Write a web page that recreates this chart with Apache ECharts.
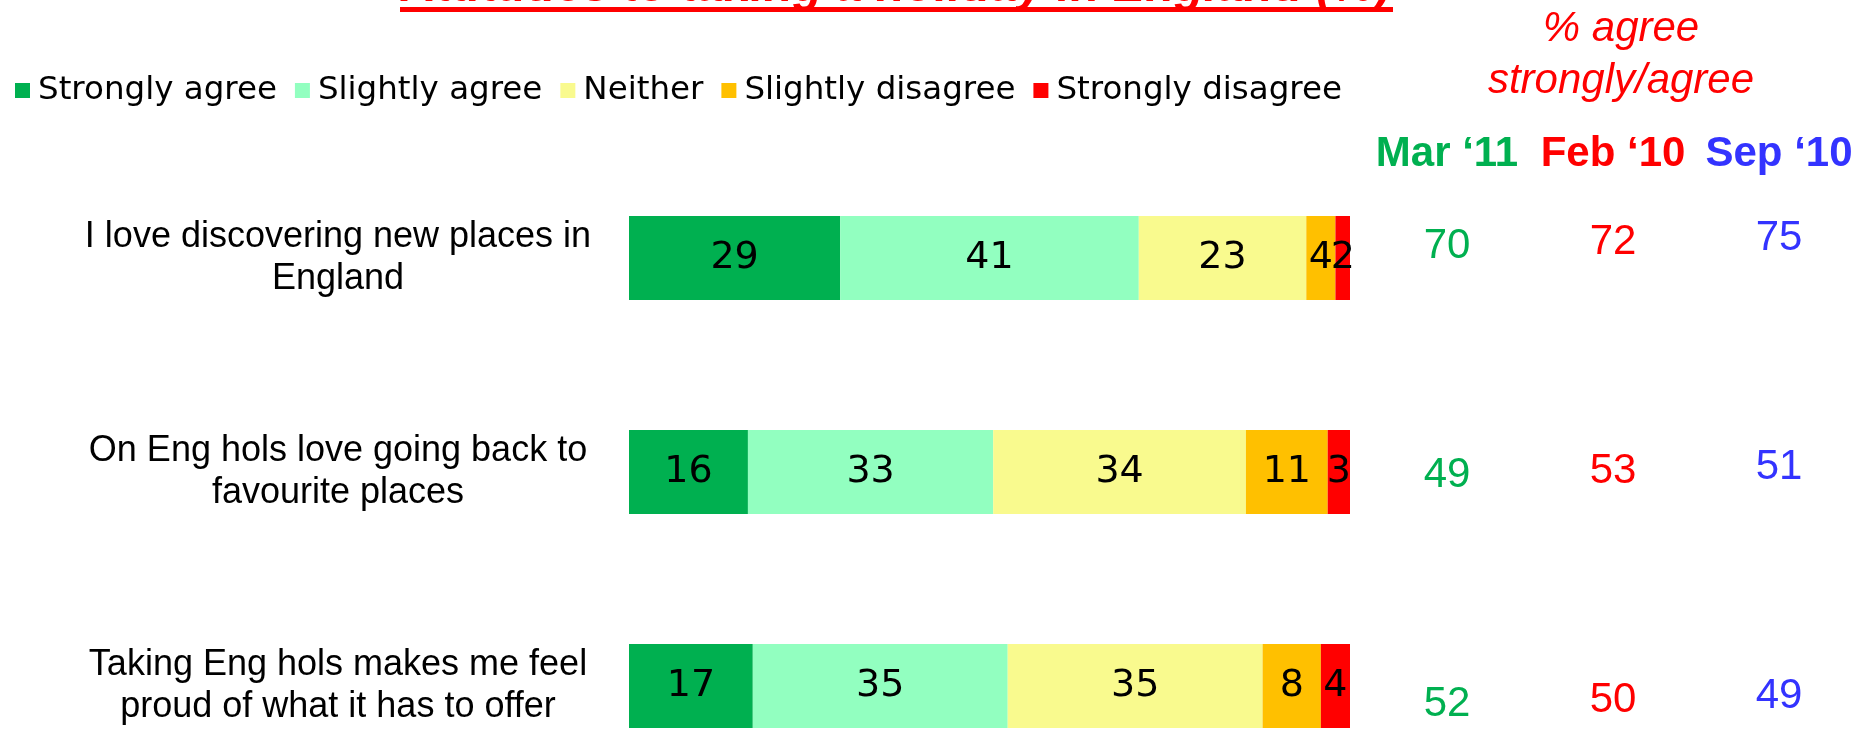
<!DOCTYPE html>
<html>
<head>
<meta charset="utf-8">
<title>Attitudes to taking a holiday in England</title>
<script src="https://cdn.jsdelivr.net/npm/echarts@6/dist/echarts.min.js"></script>
<style>
  html, body { margin: 0; padding: 0; background: #fff; }
  #chart { width: 1862px; height: 732px; }
</style>
</head>
<body>
<div id="chart"></div>
<script>
// statements (rows, top to bottom)
const statements = [
  "I love discovering new places in\nEngland",
  "On Eng hols love going back to\nfavourite places",
  "Taking Eng hols makes me feel\nproud of what it has to offer"
];
const answers = ["Strongly agree", "Slightly agree", "Neither", "Slightly disagree", "Strongly disagree"];
const stronglyAgree = [29, 16, 17];
const slightlyAgree = [41, 33, 35];
const neither = [23, 34, 35];
const slightlyDisagree = [4, 11, 8];
const stronglyDisagree = [2, 3, 4];

// % agree strongly/agree by survey wave
const waves = ["Mar \u201811", "Feb \u201810", "Sep \u201810"];
const agreeMar11 = [70, 49, 52];
const agreeFeb10 = [72, 53, 50];
const agreeSep10 = [75, 51, 49];

const answerColors = ["#00B050", "#92FFC0", "#F9FA8E", "#FFC000", "#FF0000"];
const waveColors = ["#00B050", "#FF0000", "#3333FF"];

const myChart = echarts.init(document.getElementById("chart"));

// bars are drawn as share of the row total (100% stacked), labels keep the rounded figures
const answerData = [stronglyAgree, slightlyAgree, neither, slightlyDisagree, stronglyDisagree];
const rowTotals = statements.map((s, i) => answerData.reduce((t, arr) => t + arr[i], 0));

const barSeries = answers.map((name, k) => ({
  name: name,
  type: "bar",
  stack: "total",
  xAxisIndex: 0,
  yAxisIndex: 0,
  barWidth: 84,
  itemStyle: { color: answerColors[k] },
  label: {
    show: true,
    position: "inside",
    color: "#000",
    fontFamily: "DejaVu Sans",
    fontSize: 38,
    formatter: p => answerData[k][p.dataIndex]
  },
  emphasis: { disabled: true },
  data: answerData[k].map((v, i) => v / rowTotals[i] * 100)
}));

const waveValues = [agreeMar11, agreeFeb10, agreeSep10];
const waveSeries = waves.map((w, c) => ({
  name: w,
  type: "scatter",
  xAxisIndex: 1,
  yAxisIndex: 1,
  symbolSize: 0,
  silent: true,
  itemStyle: { opacity: 1 },
  label: {
    show: true,
    position: "inside",
    color: waveColors[c],
    fontFamily: "Liberation Sans",
    fontSize: 42,
    offset: [0, 3 - c * 4],
    formatter: p => p.value[2]
  },
  data: waveValues[c].map((v, i) => [c, i, v])
}));

myChart.setOption({
  animation: false,
  legend: {
    data: answers,
    left: 10,
    top: 69,
    icon: "rect",
    itemWidth: 15,
    itemHeight: 15,
    itemGap: 18,
    textStyle: {
      fontFamily: "DejaVu Sans",
      fontSize: 32.5,
      color: "#000",
      padding: [0, 0, 0, 3]
    }
  },
  grid: [
    { left: 629, width: 721, top: 258, height: 429 },
    { left: 1364, width: 501, top: 243, height: 458 }
  ],
  xAxis: [
    {
      gridIndex: 0,
      type: "value",
      min: 0,
      max: 100,
      show: false
    },
    {
      gridIndex: 1,
      type: "category",
      position: "top",
      data: waves,
      axisLine: { show: false },
      axisTick: { show: false },
      splitLine: { show: false },
      axisLabel: {
        interval: 0,
        margin: 89,
        verticalAlign: "middle",
        fontFamily: "Liberation Sans",
        fontWeight: "bold",
        fontSize: 42,
        color: (v, i) => waveColors[i]
      }
    }
  ],
  yAxis: [
    {
      gridIndex: 0,
      type: "category",
      inverse: true,
      boundaryGap: false,
      data: statements,
      axisLine: { show: false },
      axisTick: { show: false },
      splitLine: { show: false },
      axisLabel: {
        interval: 0,
        margin: 291,
        align: "center",
        padding: [8, 0, 0, 0],
        fontFamily: "Liberation Sans",
        fontSize: 36,
        lineHeight: 42,
        color: "#000"
      }
    },
    {
      gridIndex: 1,
      type: "category",
      inverse: true,
      boundaryGap: false,
      data: statements,
      show: false
    }
  ],
  graphic: [
    {
      type: "text",
      x: 896,
      y: -12,
      style: {
        text: "Attitudes to taking a holiday in England (%)",
        x: 0,
        y: 0,
        align: "center",
        verticalAlign: "middle",
        fill: "#FF0000",
        font: "italic bold 48px 'Liberation Sans'"
      },
      silent: true
    },
    {
      type: "line",
      shape: { x1: 400, y1: 9.5, x2: 1393, y2: 9.5 },
      style: { stroke: "#FF0000", lineWidth: 5 },
      silent: true
    },
    {
      type: "text",
      x: 1621,
      y: 55,
      style: {
        text: "% agree\nstrongly/agree",
        align: "center",
        verticalAlign: "middle",
        fill: "#FF0000",
        font: "italic 42px 'Liberation Sans'",
        lineHeight: 52
      },
      silent: true
    }
  ],
  series: barSeries.concat(waveSeries)
});

window.addEventListener("resize", () => {
  myChart.resize();
});
</script>
</body>
</html>
